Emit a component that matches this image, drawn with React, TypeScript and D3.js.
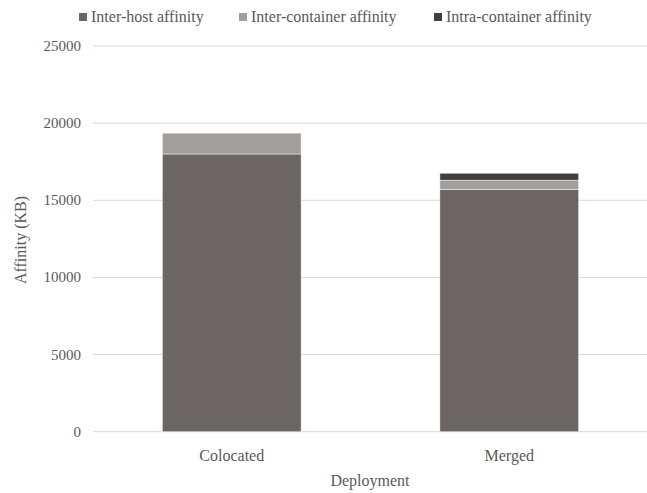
import React from "react";
import * as d3 from "d3";

const categories = ["Colocated", "Merged"];
const seriesNames = ["Inter-host affinity", "Inter-container affinity", "Intra-container affinity"];
const interHost = [18000, 15700];
const interContainer = [1350, 600];
const intraContainer = [0, 450];
const yTicks = [0, 5000, 10000, 15000, 20000, 25000];
const colors = ["#6b6664", "#a29e9c", "#433f3d"];

const W = 647;
const H = 493;
const FONT = "Liberation Serif";
const TEXT = "#595959";

export default function App() {
  const x = d3.scaleBand<string>().domain(categories).range([93, 648]).paddingInner(0.5).paddingOuter(0.25);
  const y = d3.scaleLinear().domain([0, 25000]).range([431.7, 46]);
  const rows = categories.map((c, i) => ({
    cat: c,
    s0: interHost[i],
    s1: interContainer[i],
    s2: intraContainer[i],
  }));
  const stack = d3.stack<any>().keys(["s0", "s1", "s2"]);
  const layers = stack(rows);
  const legendX = [79, 239, 434];

  return (
    <svg width={W} height={H} style={{ position: "absolute", left: 0, top: 0 }}>
      <rect x={0} y={0} width={W} height={H} fill="#ffffff" />
      {yTicks.map((t) => (
        <g key={t}>
          <line x1={93} x2={648} y1={y(t)} y2={y(t)} stroke="#d9d9d9" strokeWidth={1} />
          <text x={81} y={y(t) + 5} textAnchor="end" fontFamily={FONT} fontSize={15} fill={TEXT}>
            {String(t)}
          </text>
        </g>
      ))}
      {layers.map((layer, li) =>
        layer.map((d, i) =>
          d[1] - d[0] > 0 ? (
            <rect
              key={`${li}-${i}`}
              x={x(categories[i])}
              y={y(d[1])}
              width={x.bandwidth()}
              height={y(d[0]) - y(d[1])}
              fill={colors[li]}
              stroke="#ffffff"
              strokeOpacity={0.6}
              strokeWidth={0.75}
            />
          ) : null
        )
      )}
      {categories.map((c) => (
        <text key={c} x={(x(c) as number) + x.bandwidth() / 2} y={461} textAnchor="middle" fontFamily={FONT} fontSize={16} fill={TEXT}>
          {c}
        </text>
      ))}
      <text x={370} y={486} textAnchor="middle" fontFamily={FONT} fontSize={16} fill={TEXT}>
        Deployment
      </text>
      <text transform="translate(26,240) rotate(-90)" textAnchor="middle" fontFamily={FONT} fontSize={16} fill={TEXT}>
        Affinity (KB)
      </text>
      {seriesNames.map((s, i) => (
        <g key={s}>
          <rect x={legendX[i]} y={13} width={8} height={8} fill={colors[i]} />
          <text x={legendX[i] + 12} y={22} fontFamily={FONT} fontSize={16} fill={TEXT}>
            {s}
          </text>
        </g>
      ))}
    </svg>
  );
}
